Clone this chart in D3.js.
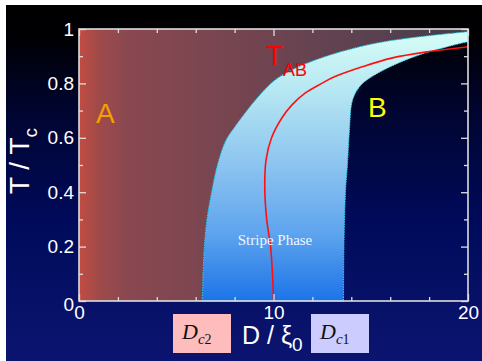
<!doctype html>
<html lang="en">
<head>
<meta charset="UTF-8">
<title>Phase diagram</title>
<style>
  html, body { margin: 0; padding: 0; background: #fff; }
  svg { display: block; }
</style>
</head>
<body>
<div id="chart"></div>
<script src="https://d3js.org/d3.v7.min.js"></script>
<script>
// boundary of the stripe phase on the A side (Dc2): [D/xi0, T/Tc]
const dc2Curve = [[6.35,0],[6.38,0.1],[6.45,0.2],[6.58,0.3],[6.82,0.4],[7.12,0.5],[7.55,0.59],
  [8.02,0.641],[8.53,0.69],[9.22,0.751],[10.08,0.8125],[11.1,0.855],[11.9,0.879],[13.5,0.917],
  [15.2,0.947],[16.9,0.966],[18.6,0.98],[20,0.99]]
// boundary of the stripe phase on the B side (Dc1)
const dc1Curve = [[13.6,0],[13.62,0.2],[13.7,0.4],[13.8,0.5],[13.9,0.62],[14.07,0.74],
  [14.5,0.794],[15.2,0.831],[16.4,0.874],[17.75,0.911],[18.95,0.935],[19.8,0.95],[20,0.953]]
// T_AB line
const tabCurve = [[10.0,0],[9.96,0.08],[9.85,0.2],[9.65,0.3],[9.55,0.42],[9.62,0.52],
  [9.9,0.6],[10.42,0.672],[10.94,0.72],[11.62,0.764],[12.48,0.8],[13.16,0.825],
  [14.6,0.862],[16.07,0.893],[18,0.917],[20,0.935]]

const xTicks = [0,2,4,6,8,10,12,14,16,18,20]
const xLabels = [0,10,20]
const yTicks = [0,0.1,0.2,0.3,0.4,0.5,0.6,0.7,0.8,0.9,1]
const yLabels = [0,0.2,0.4,0.6,0.8,1]

const W = 482, H = 361
const plot = {left: 79, right: 468, top: 29, bottom: 301}

const svg = d3.select('#chart').append('svg')
  .attr('width', W).attr('height', H)

const defs = svg.append('defs')

const bg = defs.append('linearGradient').attr('id', 'bg')
  .attr('x1', 0).attr('y1', 0).attr('x2', 0).attr('y2', 1)
bg.selectAll('stop').data([[0,'#000000'],[0.1,'#000005'],[0.3,'#000530'],[0.6,'#000a5a'],[1,'#0b1570']])
  .enter().append('stop').attr('offset', d => d[0]).attr('stop-color', d => d[1])

const aGrad = defs.append('linearGradient').attr('id', 'aGrad')
  .attr('gradientUnits', 'userSpaceOnUse')
  .attr('x1', plot.left).attr('x2', plot.right).attr('y1', 0).attr('y2', 0)
aGrad.selectAll('stop').data([[0,'#c24c42'],[0.05,'#a04a4a'],[0.12,'#8a4850'],[0.5,'#6e4450'],[0.75,'#5a4150'],[1,'#433c4a']])
  .enter().append('stop').attr('offset', d => d[0]).attr('stop-color', d => d[1])

const sGrad = defs.append('linearGradient').attr('id', 'sGrad')
  .attr('gradientUnits', 'userSpaceOnUse')
  .attr('x1', 0).attr('x2', 0).attr('y1', plot.bottom).attr('y2', plot.top)
sGrad.selectAll('stop').data([[0,'#1c74e8'],[0.25,'#5ea4ee'],[0.5,'#8cc4f0'],[0.75,'#b2e4f2'],[1,'#d8fff8']])
  .enter().append('stop').attr('offset', d => d[0]).attr('stop-color', d => d[1])

defs.append('clipPath').attr('id', 'clip')
  .append('rect').attr('x', plot.left).attr('y', plot.top)
  .attr('width', plot.right - plot.left).attr('height', plot.bottom - plot.top + 2)

// slide background
svg.append('rect').attr('x', 6).attr('y', 5).attr('width', W - 6).attr('height', H - 5)
  .attr('fill', 'url(#bg)')

const x = d3.scaleLinear().domain([0, 20]).range([plot.left, plot.right])
const y = d3.scaleLinear().domain([0, 1]).range([plot.bottom, plot.top])

const line = d3.line().x(d => x(d[0])).y(d => y(d[1])).curve(d3.curveCatmullRom)

const g = svg.append('g').attr('clip-path', 'url(#clip)')

// region A
const aPath = 'M' + x(0) + ',' + y(0) + 'L' + line(dc2Curve).slice(1) +
  'L' + x(20) + ',' + y(1) + 'L' + x(0) + ',' + y(1) + 'Z'
g.append('path').attr('d', aPath).attr('fill', 'url(#aGrad)')

// stripe phase
const sPath = line(dc2Curve) + 'L' + line(dc1Curve.slice().reverse()).slice(1) + 'Z'
g.append('path').attr('d', sPath).attr('fill', 'url(#sGrad)')
  .attr('stroke', '#2ad8f2').attr('stroke-width', 1).attr('stroke-dasharray', '1.5,1')

// T_AB
g.append('path').attr('d', line(tabCurve)).attr('fill', 'none')
  .attr('stroke', '#ff1010').attr('stroke-width', 1.6)

// frame
svg.append('rect').attr('x', plot.left).attr('y', plot.top)
  .attr('width', plot.right - plot.left).attr('height', plot.bottom - plot.top)
  .attr('fill', 'none').attr('stroke', '#dedede').attr('stroke-width', 1.6)

const isXMajor = d => xLabels.includes(d)
const isYMajor = d => yLabels.some(v => Math.abs(v - d) < 1e-9)

const axisStyle = sel => {
  sel.select('.domain').remove()
  sel.selectAll('.tick line').attr('stroke', '#dedede').attr('stroke-width', 1.3)
  sel.selectAll('.tick text').attr('fill', '#fff')
    .style('font-family', 'Liberation Sans, Arial, sans-serif').style('font-size', '19px')
}

const xBottom = svg.append('g').attr('transform', 'translate(0,' + plot.bottom + ')')
  .call(d3.axisBottom(x).tickValues(xTicks).tickSize(0).tickPadding(5)
    .tickFormat(d => isXMajor(d) ? d : ''))
  .call(axisStyle)
xBottom.selectAll('.tick line').attr('y2', d => isXMajor(d) ? -7 : -4)

const xTop = svg.append('g').attr('transform', 'translate(0,' + plot.top + ')')
  .call(d3.axisTop(x).tickValues(xTicks).tickSize(0).tickFormat(''))
  .call(axisStyle)
xTop.selectAll('.tick line').attr('y2', d => isXMajor(d) ? 7 : 4)

const yLeft = svg.append('g').attr('transform', 'translate(' + plot.left + ',0)')
  .call(d3.axisLeft(y).tickValues(yTicks).tickSize(0).tickPadding(5)
    .tickFormat(d => isYMajor(d) ? d3.format('~g')(d) : ''))
  .call(axisStyle)
yLeft.selectAll('.tick line').attr('x2', d => isYMajor(d) ? 7 : 4)
yLeft.selectAll('.tick text').filter(d => d === 0).attr('dy', '0.5em')

const yRight = svg.append('g').attr('transform', 'translate(' + plot.right + ',0)')
  .call(d3.axisRight(y).tickValues(yTicks).tickSize(0).tickFormat(''))
  .call(axisStyle)
yRight.selectAll('.tick line').attr('x2', d => isYMajor(d) ? -7 : -4)

const sans = 'Liberation Sans, Arial, sans-serif'
const serif = 'Liberation Serif, Times New Roman, serif'

// axis titles
const yt = svg.append('text').attr('transform', 'translate(29,161) rotate(-90)')
  .attr('text-anchor', 'middle').attr('fill', '#fff')
  .style('font-family', sans).style('font-size', '28px')
yt.append('tspan').text('T / T')
yt.append('tspan').attr('dy', 8).style('font-size', '19px').text('c')

const xt = svg.append('text').attr('x', 242).attr('y', 344).attr('fill', '#fff')
  .style('font-family', sans).style('font-size', '25px')
xt.append('tspan').text('D / ξ')
xt.append('tspan').attr('dy', 7).style('font-size', '19px').text('0')

// Dc labels
const dcBox = (x0, fill, sub) => {
  svg.append('rect').attr('x', x0).attr('y', 314).attr('width', 58).attr('height', 39)
    .attr('fill', fill)
  const t = svg.append('text').attr('x', x0 + 9).attr('y', 339).attr('fill', '#111')
    .style('font-family', serif).style('font-size', '22px')
  t.append('tspan').style('font-style', 'italic').text('D')
  t.append('tspan').attr('dy', 5).style('font-size', '15px').style('font-style', 'italic').text('c')
  t.append('tspan').style('font-size', '14px').text(sub)
}
dcBox(173, '#ffbcbc', '2')
dcBox(311, '#ccccff', '1')

// phase labels
svg.append('text').attr('x', 96).attr('y', 123).attr('fill', '#f5a000')
  .style('font-family', sans).style('font-size', '28px').text('A')
svg.append('text').attr('x', 368).attr('y', 117).attr('fill', '#ffff00')
  .style('font-family', sans).style('font-size', '28px').text('B')
const tab = svg.append('text').attr('x', 266).attr('y', 65).attr('fill', '#ff0000')
  .style('font-family', sans).style('font-size', '28px')
tab.append('tspan').text('T')
tab.append('tspan').attr('dy', 11).style('font-size', '18px').text('AB')
svg.append('text').attr('x', 275).attr('y', 245).attr('text-anchor', 'middle')
  .attr('fill', '#f2f6ff').style('font-family', serif).style('font-size', '15px')
  .text('Stripe Phase')
</script>
</body>
</html>
